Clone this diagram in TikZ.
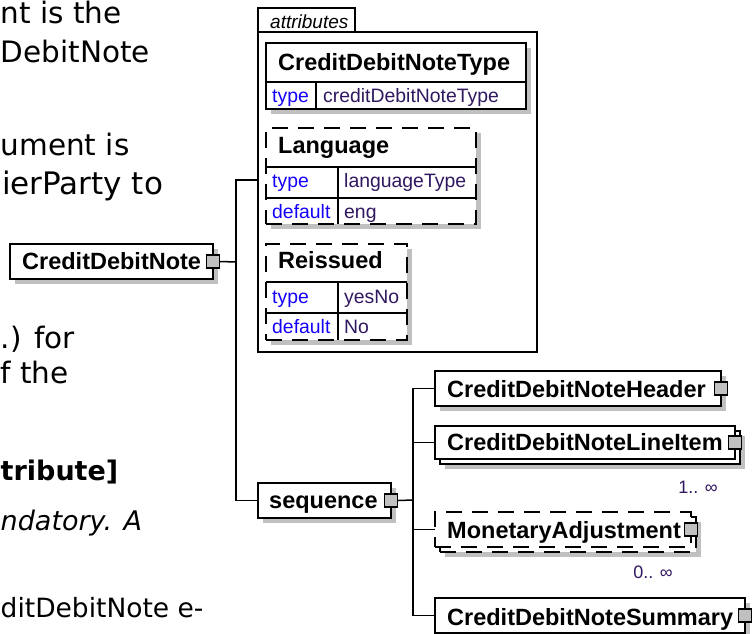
\documentclass[tikz,border=0pt]{standalone}
\usepackage{fontspec}
\setmainfont{Liberation Sans}
\newfontfamily\verd{DejaVu Sans}
\usetikzlibrary{shadows}
\definecolor{shgray}{RGB}{192,192,192}
\definecolor{sqgray}{RGB}{192,192,192}
\definecolor{lblblue}{RGB}{20,0,250}
\definecolor{valnavy}{RGB}{48,24,96}
\begin{document}
\begin{tikzpicture}[x=1pt,y=-1pt,
  ln/.style={line width=1.5pt},
  shd/.style={drop shadow={shadow xshift=5pt,shadow yshift=-5pt,fill=shgray,opacity=1}},
  box/.style={draw,line width=1.5pt,fill=white,anchor=north west,inner sep=0pt,outer sep=0pt},
  dsh/.style={dash pattern=on 16pt off 10pt},
  sq/.style={draw,line width=1.2pt,fill=sqgray,minimum size=13pt,inner sep=0pt},
  ename/.style={font=\bfseries\fontsize{23.5}{28}\selectfont,inner sep=0pt,anchor=base west},
  lbl/.style={font=\fontsize{19.4}{23}\selectfont,text=lblblue,inner sep=0pt,anchor=base west},
  val/.style={font=\fontsize{19.4}{23}\selectfont,text=valnavy,inner sep=0pt,anchor=base west},
  mult/.style={font=\fontsize{18}{22}\selectfont,text=valnavy,inner sep=0pt,anchor=base east},
  bigtxt/.style={font=\verd\fontsize{29.5}{35}\selectfont,inner sep=0pt,anchor=base west},
  smtxt/.style={font=\verd\fontsize{27}{32}\selectfont,inner sep=0pt,anchor=base west}
]
\useasboundingbox (0,0) rectangle (754,633);
\fill[white] (0,0) rectangle (754,633);

% left document text fragments
\node[bigtxt] (t1) at (0.5,23) {nt is the};
\node[bigtxt] (t2) at (0.5,62) {DebitNote};
\node[bigtxt] (t3) at (0.5,155) {ument is};
\node[bigtxt,font=\verd\fontsize{31}{35}\selectfont] (t4) at (2,194) {ierParty to};
\node[bigtxt] (t5) at (0.5,348) {.) for};
\node[bigtxt] (t6) at (0.5,383) {f the};
\node[smtxt,font=\verd\bfseries\fontsize{27}{32}\selectfont] (t7) at (0.5,480) {tribute]};
\node[smtxt,font=\verd\itshape\fontsize{27}{32}\selectfont] (t8) at (0.5,530) {ndatory. A};
\node[smtxt,font=\verd\fontsize{26.5}{32}\selectfont] (t9) at (0.5,617) {ditDebitNote e-};

% attributes container
\draw[ln] (258,32) -- (258,8) -- (355,8) -- (355,32);
\node[box,fill=none,minimum width=279pt,minimum height=320pt] (attr) at (258,32) {};
\node[font=\itshape\fontsize{19}{23}\selectfont,inner sep=0pt,anchor=base west] (attrlbl) at (270,28) {attributes};

% CreditDebitNoteType
\node[box,shd,minimum width=260pt,minimum height=66pt] (cdt) at (266,43) {};
\draw[ln] (266,82) -- (526,82);
\draw[ln] (316,82) -- (316,109);
\node[ename] (cdtt) at (278,70) {CreditDebitNoteType};
\node[lbl] (cdtl) at (272,102) {type};
\node[val] (cdtv) at (323,102) {creditDebitNoteType};

% Language
\node[box,shd,dsh,minimum width=210pt,minimum height=96pt] (lang) at (266,128) {};
\draw[ln] (266,167) -- (476,167);
\draw[ln] (266,198) -- (476,198);
\draw[ln] (338,167) -- (338,224);
\node[ename] (langt) at (278,153) {Language};
\node[lbl] (langl1) at (272,187) {type};
\node[val] (langv1) at (344,187) {languageType};
\node[lbl] (langl2) at (272,218) {default};
\node[val] (langv2) at (344,218) {eng};

% Reissued
\node[box,shd,dsh,minimum width=141pt,minimum height=96pt] (reis) at (266,244) {};
\draw[ln] (266,282) -- (407,282);
\draw[ln] (266,313) -- (407,313);
\draw[ln] (338,282) -- (338,340);
\node[ename] (reist) at (278,268) {Reissued};
\node[lbl] (reisl1) at (272,303) {type};
\node[val] (reisv1) at (344,303) {yesNo};
\node[lbl] (reisl2) at (272,333) {default};
\node[val] (reisv2) at (344,333) {No};

% root element
\node[box,shd,minimum width=203pt,minimum height=35pt] (cdn) at (10,244) {};
\node[ename] (cdnt) at (22,269) {CreditDebitNote};
\node[sq] (cdnsq) at (cdn.east) {};

% sequence
\node[box,shd,minimum width=133pt,minimum height=35pt] (seq) at (258,483) {};
\node[ename] (seqt) at (269,508) {sequence};
\node[sq] (seqsq) at (seq.east) {};

% children
\node[box,shd,minimum width=286pt,minimum height=35pt] (hdr) at (435,371) {};
\node[ename] (hdrt) at (447,397) {CreditDebitNoteHeader};
\node[sq] (hdrsq) at (hdr.east) {};

\node[box,shd,minimum width=300pt,minimum height=33pt] (liback) at (440,431) {};
\node[box,minimum width=300pt,minimum height=33pt] (li) at (435,426) {};
\node[ename] (lit) at (447,450) {CreditDebitNoteLineItem};
\node[sq] (lisq) at (li.east) {};
\node[mult] (limult) at (718,493) {1.. ∞};

\node[box,shd,dsh,minimum width=256pt,minimum height=35pt] (maback) at (440,517) {};
\node[box,dsh,minimum width=256pt,minimum height=35pt] (ma) at (435,512) {};
\node[ename] (mat) at (447,538) {MonetaryAdjustment};
\node[sq] (masq) at (ma.east) {};
\node[mult] (mamult) at (673,578) {0.. ∞};

\node[box,shd,minimum width=310pt,minimum height=35pt] (sum) at (435,598) {};
\node[ename] (sumt) at (447,625) {CreditDebitNoteSummary};
\node[sq] (sumsq) at (sum.east) {};

% connectors
\coordinate (ta) at (258,180);
\coordinate (j1) at (236,262);
\coordinate (j2) at (413,500);
\draw[ln] (cdnsq.east) -- (j1);
\draw[ln] (ta) -| (j1) |- (seq.west);
\draw[ln] (seqsq.east) -- (j2);
\draw[ln] (j2) |- (hdr.west);
\draw[ln] (j2) |- (li.west);
\draw[ln] (j2) |- (ma.west);
\draw[ln] (j2) |- (sum.west);
\end{tikzpicture}
\end{document}
